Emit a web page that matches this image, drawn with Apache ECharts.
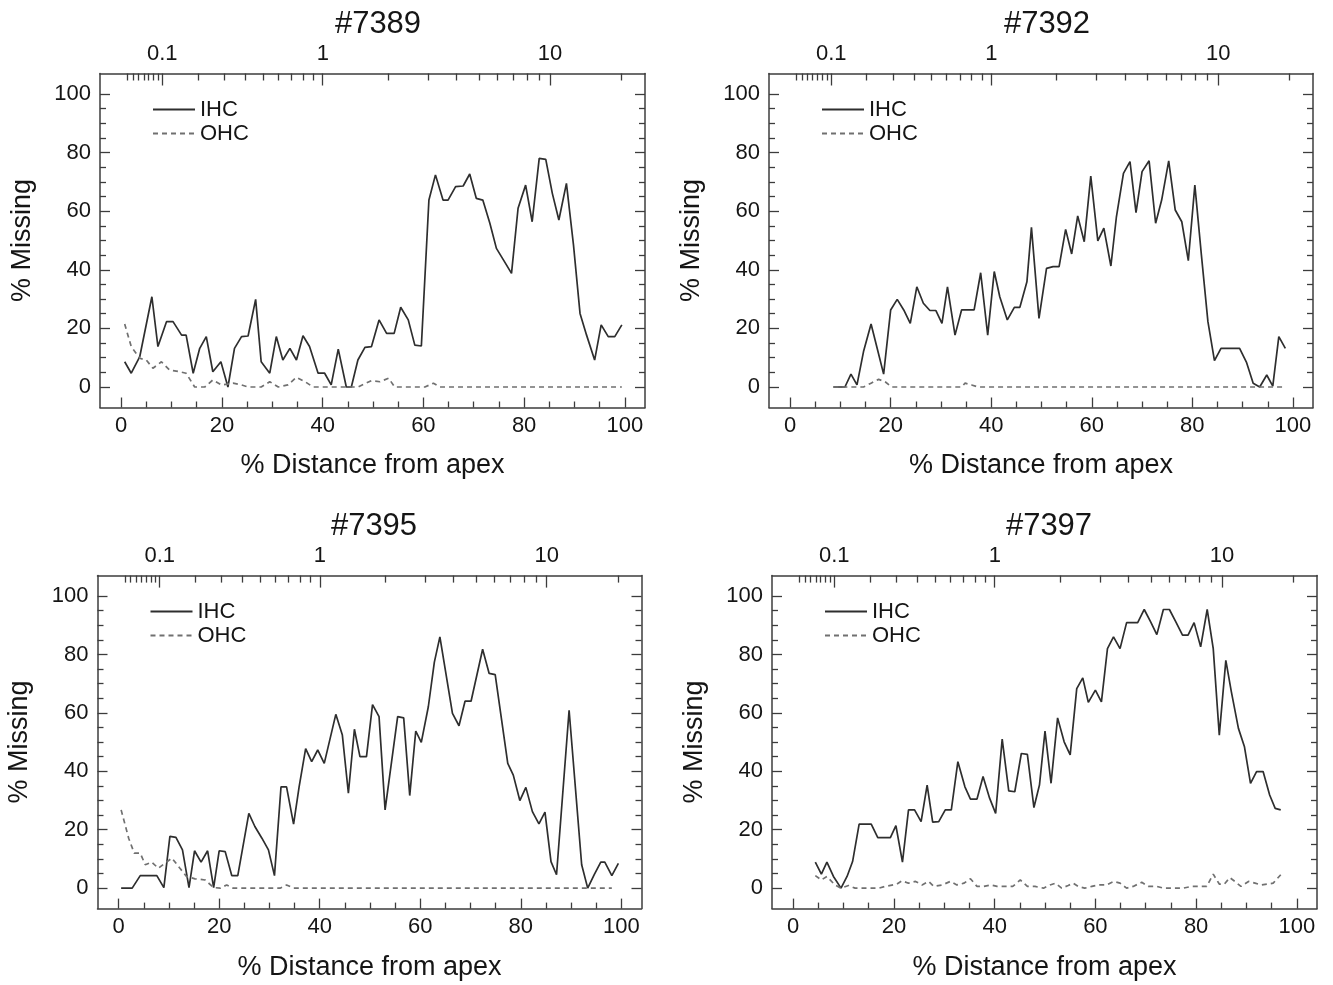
<!DOCTYPE html>
<html>
<head>
<meta charset="utf-8">
<title>% Missing hair cells</title>
<script src="https://cdn.jsdelivr.net/npm/echarts@6/dist/echarts.min.js"></script>
<style>
    html, body { margin: 0; padding: 0; background: #fff; }
    #chart { width: 1333px; height: 985px; }
</style>
</head>
<body>
<div id="chart"></div>
<script>
    // ---- data: [ % distance from apex, % missing ] ----
    var panelNames = ['#7389', '#7392', '#7395', '#7397'];
    var seriesNames = ['IHC', 'OHC'];

    var ihc7389 = [[0.7,8.6],[2.0,4.7],[3.7,10.4],[6.1,30.8],[7.3,13.8],[9.0,22.3],[10.3,22.3],[12.0,17.7],[12.9,17.7],[14.3,4.7],[15.6,13.2],[16.9,17.2],[18.2,5.2],[19.8,8.6],[21.2,0],[22.5,13.2],[23.9,17.2],[25.2,17.4],[26.7,29.9],[27.8,8.6],[29.5,4.7],[30.8,17.2],[32.1,9.2],[33.5,13.2],[34.8,9.2],[36.1,17.5],[37.4,13.8],[39.1,4.7],[40.4,4.7],[41.7,0.7],[43.1,12.9],[44.7,0],[45.7,0],[47.0,9.2],[48.4,13.5],[49.7,13.8],[51.2,22.9],[52.7,18.3],[54.2,18.3],[55.5,27.2],[57.0,22.9],[58.3,14.3],[59.6,14.0],[61.1,63.8],[62.4,72.4],[63.9,63.8],[64.9,63.8],[66.4,68.4],[67.9,68.6],[69.2,72.7],[70.5,64.4],[71.8,63.8],[73.2,55.9],[74.5,47.3],[76.1,42.8],[77.5,38.8],[78.8,61.0],[80.3,68.9],[81.6,56.4],[83.0,78.0],[84.3,77.7],[85.6,66.1],[86.9,57.0],[88.4,69.5],[89.8,48.5],[91.1,25.1],[92.4,17.7],[94.0,9.2],[95.3,21.2],[96.7,17.2],[98.0,17.2],[99.4,21.2]];
    var ohc7389 = [[0.7,21.5],[2.0,13.8],[3.7,9.8],[5.0,9.2],[6.3,6.4],[8.0,8.6],[9.6,5.8],[11.6,5.2],[12.9,4.7],[14.6,0],[16.6,0],[18.2,2.4],[19.9,0.7],[22.2,1.3],[23.9,0.7],[25.2,0],[27.8,0],[29.5,1.8],[31.2,0],[33.1,0.7],[34.8,3.3],[36.5,1.8],[38.1,0],[47.0,0],[49.7,2.2],[51.4,1.8],[53.1,3.0],[54.3,0],[60.3,0],[62.0,1.3],[63.3,0],[99.4,0]];

    var ihc7392 = [[8.6,0],[10.9,0],[12.1,4.4],[13.3,0.7],[14.6,12.1],[16.1,21.5],[17.4,12.6],[18.6,4.4],[20.0,26.3],[21.3,29.9],[22.6,26.3],[23.9,21.7],[25.2,34.2],[26.5,28.6],[27.8,26.1],[29.0,26.1],[30.2,21.7],[31.3,34.2],[32.8,17.7],[34.1,26.3],[35.5,26.3],[36.6,26.3],[37.9,39.0],[39.3,17.7],[40.6,39.4],[41.7,30.8],[43.2,22.9],[44.6,27.2],[45.7,27.2],[47.1,35.9],[48.0,54.5],[49.5,23.4],[51.0,40.5],[52.3,41.1],[53.5,41.1],[54.8,53.8],[56.0,45.4],[57.2,58.4],[58.5,49.6],[59.8,72.0],[61.2,49.9],[62.4,54.2],[63.8,41.3],[64.9,58.1],[66.3,72.9],[67.6,76.9],[68.8,59.5],[70.0,73.5],[71.4,77.2],[72.7,55.9],[73.9,63.8],[75.3,77.2],[76.6,60.4],[77.9,56.4],[79.2,43.1],[80.5,68.9],[81.8,45.1],[83.1,22.3],[84.4,9.0],[85.7,13.2],[87.0,13.2],[88.3,13.2],[89.4,13.2],[90.8,8.3],[92.1,1.3],[93.4,0],[94.8,4.1],[96.0,0.3],[97.2,17.2],[98.5,13.2]];
    var ohc7392 = [[8.6,0],[14.6,0],[16.1,1.3],[17.6,2.6],[18.9,1.8],[20.2,0],[34.1,0],[34.8,1.3],[36.1,0.7],[37.4,0],[98.5,0]];

    var ihc7395 = [[0.5,0],[2.7,0],[4.3,4.3],[5.9,4.3],[7.6,4.3],[9.0,0.2],[10.2,17.7],[11.4,17.4],[12.7,13.1],[14.0,0.2],[15.1,12.8],[16.4,8.9],[17.7,12.8],[18.9,0.2],[20.0,12.8],[21.2,12.5],[22.5,4.3],[23.7,4.3],[25.9,25.6],[27.1,21.1],[28.5,17.1],[29.8,13.1],[31.0,4.3],[32.3,34.7],[33.4,34.7],[34.8,21.9],[35.9,34.7],[37.2,47.8],[38.4,43.3],[39.6,47.3],[40.9,42.7],[43.2,59.5],[44.5,52.4],[45.7,32.5],[46.9,54.4],[48.0,45.0],[49.3,45.0],[50.5,62.8],[51.8,58.7],[53.0,26.8],[55.5,58.7],[56.7,58.3],[57.9,31.7],[59.1,53.8],[60.2,49.9],[61.6,62.1],[62.8,77.4],[63.9,86.0],[66.4,59.8],[67.7,55.6],[68.9,64.0],[70.1,64.0],[72.4,81.8],[73.7,73.5],[74.9,73.1],[77.4,42.7],[78.5,38.7],[79.8,30.0],[81.0,34.5],[82.3,26.2],[83.6,22.0],[84.8,26.0],[86.0,9.1],[87.1,4.6],[89.6,60.9],[92.1,8.0],[93.3,0],[94.6,4.6],[95.9,8.9],[96.7,8.9],[98.1,4.3],[99.4,8.5]];
    var ohc7395 = [[0.5,26.8],[2.0,17.1],[3.1,12.0],[4.3,12.0],[5.3,8.0],[6.6,8.9],[7.9,6.8],[9.2,8.5],[10.6,10.3],[12.2,6.8],[13.5,4.0],[15.2,3.2],[17.2,2.8],[18.9,0.2],[20.2,0],[21.5,1.1],[22.8,0],[32.1,0],[33.4,1.1],[34.8,0],[98.1,0]];

    var ihc7397 = [[4.4,8.9],[5.6,4.8],[6.7,8.9],[8.0,4.0],[9.5,0],[10.7,4.0],[11.8,9.1],[13.1,21.9],[14.3,21.9],[15.5,21.9],[16.8,17.3],[18.2,17.3],[19.3,17.3],[20.4,21.4],[21.7,8.9],[22.9,26.8],[24.1,26.8],[25.4,22.8],[26.6,35.3],[27.7,22.6],[28.9,22.8],[30.2,26.8],[31.4,26.8],[32.7,43.3],[34.1,34.7],[35.2,30.5],[36.5,30.5],[37.7,38.2],[39.0,30.8],[40.2,25.6],[41.5,51.0],[42.8,33.3],[44.0,33.0],[45.3,46.1],[46.5,45.8],[47.8,27.6],[48.9,35.3],[50.0,53.8],[51.2,35.9],[52.5,58.3],[53.8,50.1],[55.0,45.6],[56.3,68.3],[57.5,72.0],[58.6,63.6],[60.0,67.8],[61.2,63.8],[62.4,82.0],[63.6,86.0],[64.9,82.0],[66.2,90.9],[67.5,90.9],[68.4,90.9],[69.7,95.4],[71.0,91.1],[72.2,86.8],[73.5,95.4],[74.7,95.4],[76.0,91.1],[77.3,86.6],[78.4,86.6],[79.6,90.9],[80.9,82.6],[82.2,95.4],[83.4,82.0],[84.6,52.4],[85.9,78.0],[87.0,67.2],[88.4,54.7],[89.6,48.4],[90.8,35.9],[92.0,39.9],[93.3,39.9],[94.6,31.9],[95.7,27.3],[96.8,26.8]];
    var ohc7397 = [[4.4,4.3],[5.6,2.8],[6.7,4.0],[8.3,1.1],[9.5,0],[11.0,0.9],[12.3,0],[17.0,0],[18.3,0.6],[20.6,1.4],[21.6,2.5],[22.9,1.7],[24.3,2.3],[25.6,1.1],[26.9,2.3],[27.9,0.6],[29.6,1.1],[31.2,2.3],[32.5,1.1],[33.9,1.7],[35.2,3.2],[36.5,0.6],[37.8,0.6],[39.2,1.1],[40.5,0.6],[43.6,0.6],[45.1,2.8],[46.5,0.6],[48.0,0.6],[49.7,0],[51.0,1.1],[52.1,1.7],[53.3,0],[54.6,0.9],[55.6,1.7],[56.6,0.6],[57.9,0],[59.3,0.6],[60.6,1.1],[62.2,1.1],[63.6,2.3],[64.9,1.7],[66.2,0],[67.5,0.6],[69.2,2.0],[70.5,0.6],[72.2,0.6],[73.5,0],[77.4,0],[79.1,0.6],[82.1,0.6],[83.4,4.8],[84.6,1.4],[85.6,1.4],[86.7,3.6],[87.7,2.3],[88.9,0.6],[90.4,2.3],[91.7,1.7],[93.0,1.1],[95.3,1.7],[96.8,4.6]];

    var ihcData = [ihc7389, ihc7392, ihc7395, ihc7397];
    var ohcData = [ohc7389, ohc7392, ohc7395, ohc7397];

    // ---- tick values ----
    var pctMajor = [0, 20, 40, 60, 80, 100];
    var pctMinor = [5, 10, 15, 25, 30, 35, 45, 50, 55, 65, 70, 75, 85, 90, 95];
    var freqMajor = [0.1, 1, 10];                      // kHz, top axis labels
    var freqMinor = [0.03, 0.04, 0.05, 0.06, 0.07, 0.08, 0.09,
                     0.2, 0.3, 0.4, 0.5, 0.6, 0.7, 0.8, 0.9,
                     2, 3, 4, 5, 6, 7, 8, 9, 20];

    // human Greenwood map: frequency (kHz) -> % distance from apex
    function apexPos(kHz) {
        return Math.log10(kHz * 1000 / 165.4 + 0.88) / 2.1 * 100;
    }
    var freqMajorPos = freqMajor.map(apexPos);
    var freqMinorPos = freqMinor.map(apexPos);

    var FONT = '"Liberation Sans", Arial, Helvetica, sans-serif';
    var INK = '#151515';
    var FRAME = '#3c3c3c';
    var X_MIN = -4.2, X_MAX = 104;
    var Y_MIN = -7, Y_MAX = 107;

    var grids = [
        { left: 100,  top: 73.5,  width: 545, height: 334 },
        { left: 769,  top: 73.5,  width: 544, height: 334 },
        { left: 97.5, top: 575.6, width: 544, height: 333 },
        { left: 772,  top: 575.6, width: 545, height: 333 }
    ];
    var titleX = [373, 1042, 369, 1044];
    var titleTop = [4, 4, 506, 506];

    function axisBase(gi, min, max, extra) {
        var a = {
            gridIndex: gi, type: 'value', min: min, max: max,
            splitLine: { show: false },
            axisLine: { show: false, onZero: false },
            axisTick: { show: false },
            axisLabel: { show: false }
        };
        for (var k in extra) a[k] = extra[k];
        return a;
    }
    function ticks(values, len) {
        return { show: true, inside: true, length: len, customValues: values,
                 lineStyle: { color: FRAME, width: 1.3 } };
    }
    var frameLine = { show: true, onZero: false, lineStyle: { color: FRAME, width: 1.5 } };
    function labels(values, margin) {
        return { show: true, customValues: values, margin: margin,
                 fontSize: 22, color: INK, fontFamily: FONT };
    }
    function freqLabel(v) {
        var best = 0;
        for (var i = 1; i < freqMajorPos.length; i++) {
            if (Math.abs(freqMajorPos[i] - v) < Math.abs(freqMajorPos[best] - v)) best = i;
        }
        return String(freqMajor[best]);
    }

    var xAxes = [], yAxes = [], series = [], legends = [], titles = [];

    grids.forEach(function (g, i) {
        var xIdx = xAxes.length;
        var yIdx = yAxes.length;

        // bottom: % distance from apex
        xAxes.push(axisBase(i, X_MIN, X_MAX, {
            position: 'bottom', axisLine: frameLine,
            axisTick: ticks(pctMajor, 10), axisLabel: labels(pctMajor, 7),
            name: '% Distance from apex', nameLocation: 'middle', nameGap: 45,
            nameTextStyle: { fontSize: 27, color: INK, fontFamily: FONT }
        }));
        xAxes.push(axisBase(i, X_MIN, X_MAX, { position: 'bottom', axisTick: ticks(pctMinor, 6) }));
        // top: characteristic frequency (kHz)
        var topLab = labels(freqMajorPos, 9);
        topLab.formatter = freqLabel;
        xAxes.push(axisBase(i, X_MIN, X_MAX, {
            position: 'top', axisLine: frameLine,
            axisTick: ticks(freqMajorPos, 12), axisLabel: topLab
        }));
        xAxes.push(axisBase(i, X_MIN, X_MAX, { position: 'top', axisTick: ticks(freqMinorPos, 7) }));

        // left: % missing
        yAxes.push(axisBase(i, Y_MIN, Y_MAX, {
            position: 'left', axisLine: frameLine,
            axisTick: ticks(pctMajor, 10), axisLabel: labels(pctMajor, 9),
            name: '% Missing', nameLocation: 'middle', nameGap: 64,
            nameTextStyle: { fontSize: 27, color: INK, fontFamily: FONT }
        }));
        yAxes.push(axisBase(i, Y_MIN, Y_MAX, { position: 'left', axisTick: ticks(pctMinor, 6) }));
        // right: mirrored ticks
        yAxes.push(axisBase(i, Y_MIN, Y_MAX, { position: 'right', axisLine: frameLine, axisTick: ticks(pctMajor, 10) }));
        yAxes.push(axisBase(i, Y_MIN, Y_MAX, { position: 'right', axisTick: ticks(pctMinor, 6) }));

        series.push({
            name: 'IHC', type: 'line', xAxisIndex: xIdx, yAxisIndex: yIdx,
            data: ihcData[i], symbol: 'none',
            lineStyle: { color: '#2e2e2e', width: 1.7 }, itemStyle: { color: '#2e2e2e' }
        });
        series.push({
            name: 'OHC', type: 'line', xAxisIndex: xIdx, yAxisIndex: yIdx,
            data: ohcData[i], symbol: 'none',
            lineStyle: { color: '#707070', width: 1.7, type: [5, 4] }, itemStyle: { color: '#707070' }
        });

        legends.push({
            orient: 'vertical', left: g.left + 47, top: g.top + 20,
            itemWidth: 42, itemHeight: 14, itemGap: 2,
            data: seriesNames, selectedMode: false,
            itemStyle: { color: 'transparent', borderColor: 'transparent', borderWidth: 0, opacity: 0 },
            textStyle: { fontSize: 22, color: INK, fontFamily: FONT }
        });

        titles.push({
            text: panelNames[i], left: titleX[i], top: titleTop[i], textAlign: 'center',
            textStyle: { fontSize: 31, fontWeight: 'normal', color: INK, fontFamily: FONT }
        });
    });

    var chart = echarts.init(document.getElementById('chart'));
    chart.setOption({
        animation: false,
        backgroundColor: '#fff',
        textStyle: { fontFamily: FONT },
        title: titles,
        legend: legends,
        grid: grids.map(function (g) {
            return { left: g.left, top: g.top, width: g.width, height: g.height,
                     containLabel: false, outerBoundsMode: 'none' };
        }),
        xAxis: xAxes,
        yAxis: yAxes,
        series: series
    });
</script>
</body>
</html>
